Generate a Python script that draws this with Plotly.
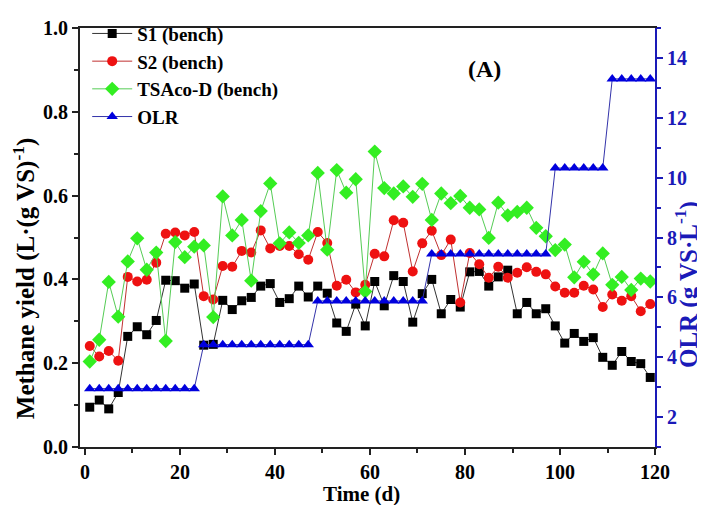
import plotly.graph_objects as go

days = list(range(1, 120, 2))

s1 = [0.095, 0.112, 0.091, 0.130, 0.264, 0.287, 0.268, 0.302, 0.398, 0.397,
      0.379, 0.389, 0.243, 0.245, 0.350, 0.328, 0.349, 0.357, 0.384, 0.390,
      0.345, 0.354, 0.384, 0.358, 0.384, 0.367, 0.296, 0.276, 0.341, 0.289,
      0.395, 0.337, 0.409, 0.395, 0.298, 0.366, 0.400, 0.318, 0.352, 0.334,
      0.418, 0.419, 0.384, 0.406, 0.422, 0.318, 0.345, 0.318, 0.330, 0.289,
      0.248, 0.271, 0.252, 0.261, 0.214, 0.195, 0.228, 0.204, 0.199, 0.166]

s2 = [0.241, 0.216, 0.229, 0.206, 0.406, 0.395, 0.399, 0.440, 0.509, 0.512,
      0.505, 0.513, 0.360, 0.352, 0.432, 0.430, 0.468, 0.464, 0.517, 0.474,
      0.480, 0.480, 0.460, 0.447, 0.513, 0.487, 0.385, 0.399, 0.369, 0.387,
      0.461, 0.455, 0.541, 0.535, 0.419, 0.486, 0.516, 0.458, 0.495, 0.345,
      0.463, 0.436, 0.404, 0.430, 0.404, 0.416, 0.429, 0.418, 0.412, 0.383,
      0.368, 0.368, 0.385, 0.376, 0.334, 0.364, 0.349, 0.360, 0.324, 0.341]

tsaco = [0.204, 0.256, 0.394, 0.311, 0.443, 0.498, 0.423, 0.464, 0.253, 0.489,
         0.453, 0.478, 0.481, 0.310, 0.598, 0.505, 0.542, 0.397, 0.563, 0.629,
         0.486, 0.512, 0.487, 0.505, 0.654, 0.471, 0.661, 0.607, 0.639, 0.371,
         0.705, 0.618, 0.605, 0.622, 0.597, 0.628, 0.542, 0.605, 0.582, 0.599,
         0.571, 0.567, 0.499, 0.583, 0.553, 0.561, 0.571, 0.523, 0.503, 0.470,
         0.483, 0.405, 0.442, 0.412, 0.462, 0.387, 0.406, 0.375, 0.402, 0.395]

olr = ([2.95] * 12 + [4.42] * 12 + [5.88] * 12 + [7.45] * 13
       + [10.32] * 6 + [13.3] * 5)

x_title = "Time (d)"
y_title = "Methane yield (L·(g VS)<sup>-1</sup>)"
y2_title = "OLR (g VS·L<sup>-1</sup>)"
panel_label = "(A)"

FONT = "Liberation Serif"
BLUE = "#1a1ab8"
TICK = 20

fig = go.Figure()
fig.add_trace(go.Scatter(x=days, y=s1, name="S1 (bench)", mode="lines+markers",
                         line=dict(color="#333333", width=1),
                         marker=dict(symbol="square", size=9, color="black")))
fig.add_trace(go.Scatter(x=days, y=s2, name="S2 (bench)", mode="lines+markers",
                         line=dict(color="#c03030", width=1),
                         marker=dict(symbol="circle", size=10, color="#ee1111")))
fig.add_trace(go.Scatter(x=days, y=tsaco, name="TSAco-D (bench)", mode="lines+markers",
                         line=dict(color="#55cc55", width=1),
                         marker=dict(symbol="diamond", size=11, color="#33ee22")))
fig.add_trace(go.Scatter(x=days, y=olr, name="OLR", mode="lines+markers", yaxis="y2",
                         line=dict(color="#3333aa", width=1),
                         marker=dict(symbol="triangle-up", size=10, color="#0000dd")))

ann_font = dict(family=FONT, color="black", weight="bold")
common = dict(xref="paper", yref="paper", showarrow=False,
              xanchor="center", yanchor="middle")
fig.add_annotation(x=0.7043, y=0.9028, text=panel_label,
                   font=dict(ann_font, size=24), **common)
fig.add_annotation(x=0.4904, y=-0.1111, text=x_title,
                   font=dict(ann_font, size=21), **common)
fig.add_annotation(x=-0.0975, y=0.4028, text=y_title, textangle=-90,
                   font=dict(ann_font, size=25), **common)
fig.add_annotation(x=1.054, y=0.3866, text=y2_title, textangle=-90,
                   font=dict(family=FONT, color=BLUE, weight="bold", size=25), **common)

fig.update_layout(
    width=697, height=497,
    margin=dict(l=72, r=50, t=7, b=58),
    plot_bgcolor="white", paper_bgcolor="white",
    font=dict(family=FONT, size=TICK, color="black", weight="bold"),
    showlegend=True,
    legend=dict(x=0.0125, y=1.032, xanchor="left", yanchor="top",
                bgcolor="rgba(0,0,0,0)", font=dict(family=FONT, size=19, weight="bold"),
                tracegroupgap=0, itemwidth=40),
    xaxis=dict(range=[-1.05, 120], tick0=0, dtick=20, showline=True, linecolor="#222222",
               linewidth=2, mirror=True, ticks="outside", ticklen=6, tickwidth=1.5,
               tickcolor="#222222", showgrid=False, zeroline=False, automargin=False,
               minor=dict(dtick=10, ticks="outside", ticklen=4, tickcolor="#222222"),
               tickfont=dict(family=FONT, size=TICK, weight="bold")),
    yaxis=dict(range=[0, 1.0], tick0=0, dtick=0.2, tickformat=".1f", showline=True,
               linecolor="#222222", linewidth=2, ticks="outside", ticklen=6, tickwidth=1.5,
               tickcolor="#222222", showgrid=False, zeroline=False, automargin=False,
               minor=dict(dtick=0.1, ticks="outside", ticklen=4, tickcolor="#222222"),
               tickfont=dict(family=FONT, size=TICK, weight="bold")),
    yaxis2=dict(range=[1, 15], tick0=2, dtick=2, overlaying="y", side="right",
                showline=True, linecolor=BLUE, linewidth=2, ticks="outside", ticklen=6,
                tickwidth=1.5, tickcolor=BLUE, showgrid=False, zeroline=False,
                automargin=False,
                minor=dict(dtick=1, ticks="outside", ticklen=4, tickcolor=BLUE),
                tickfont=dict(family=FONT, size=TICK, color=BLUE, weight="bold")),
)

fig.write_html("out.html")
